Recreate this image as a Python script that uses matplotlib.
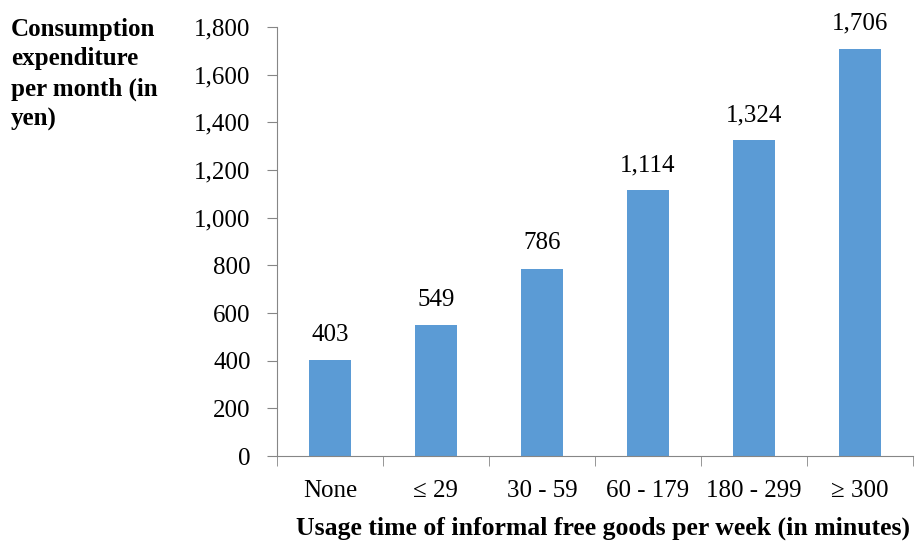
import matplotlib
matplotlib.use("Agg")
import matplotlib.pyplot as plt
import numpy as np

categories = ["None", "\u2264 29", "30 - 59", "60 - 179", "180 - 299", "\u2265 300"]
expenditure = [403, 549, 786, 1114, 1324, 1706]
y_ticks = [0, 200, 400, 600, 800, 1000, 1200, 1400, 1600, 1800]

plt.rcParams['font.family'] = ['Liberation Serif', 'DejaVu Serif']

fig = plt.figure(figsize=(9.23, 5.47), dpi=100)
ax = fig.add_axes([0.300, 0.166, 0.689, 0.785])

x = np.arange(len(categories))
bars = ax.bar(x, expenditure, width=0.4, color='#5B9BD5', zorder=2)

for xi, v in zip(x, expenditure):
    ax.text(xi, v + 60, f"{v:,}", ha='center', va='bottom', fontsize=18)

ax.set_xlim(-0.5, len(categories) - 0.5)
ax.set_ylim(0, 1800)
ax.set_yticks(y_ticks)
ax.set_yticklabels([f"{t:,}" for t in y_ticks], fontsize=18)

# category labels centered, tick marks at the boundaries
ax.set_xticks(x)
ax.set_xticklabels(categories, fontsize=18)
ax.tick_params(axis='x', length=0, pad=17)
ax.set_xticks(np.arange(-0.5, len(categories)), minor=True)
ax.tick_params(axis='x', which='minor', length=7, color='#868686')
ax.tick_params(axis='y', length=7, color='#868686', pad=12)

for side in ['top', 'right']:
    ax.spines[side].set_visible(False)
for side in ['left', 'bottom']:
    ax.spines[side].set_color('#868686')

fig.text(0.012, 0.968, "Consumption\nexpenditure\nper month (in\nyen)",
         ha='left', va='top', fontsize=18, fontweight='bold',
         linespacing=1.38)

fig.text(0.653, 0.035, "Usage time of informal free goods per week (in minutes)",
         ha='center', va='center', fontsize=18.5, fontweight='bold')

fig.savefig("out.png", dpi=100)
